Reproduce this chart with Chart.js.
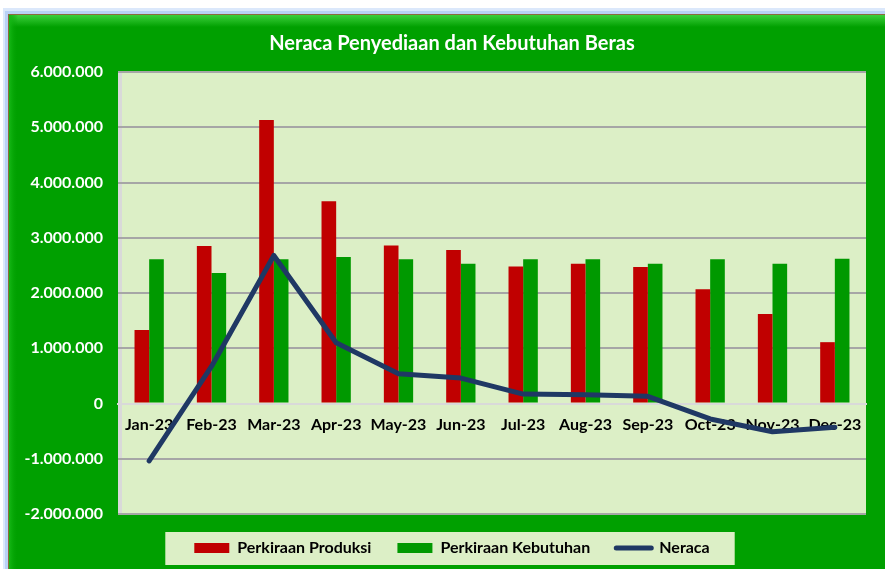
<!DOCTYPE html>
<html>
<head>
<meta charset="utf-8">
<script src="https://cdn.jsdelivr.net/npm/chart.js@4.4.0/dist/chart.umd.min.js"></script>
<style>
  html, body { margin: 0; padding: 0; background: #ffffff; }
  #wrap { position: relative; width: 885px; height: 569px; }
  canvas { display: block; }
</style>
</head>
<body>
<div id="wrap"><canvas id="c" width="885" height="569"></canvas></div>
<script>
const categories = ['Jan-23','Feb-23','Mar-23','Apr-23','May-23','Jun-23','Jul-23','Aug-23','Sep-23','Oct-23','Nov-23','Dec-23'];
const produksi   = [1330000, 2850000, 5130000, 3660000, 2860000, 2780000, 2480000, 2530000, 2470000, 2070000, 1620000, 1110000];
const kebutuhan  = [2610000, 2360000, 2610000, 2650000, 2610000, 2530000, 2610000, 2610000, 2530000, 2610000, 2530000, 2620000];
const neraca     = [-1040000, 670000, 2680000, 1100000, 540000, 460000, 170000, 160000, 130000, -280000, -510000, -430000];
const seriesNames = ['Perkiraan Produksi', 'Perkiraan Kebutuhan', 'Neraca'];
const titleText = 'Neraca Penyediaan dan Kebutuhan Beras';

function fmt(v) {
  const neg = v < 0;
  const s = Math.abs(Math.round(v)).toString().replace(/\B(?=(\d{3})+(?!\d))/g, '.');
  return (neg ? '-' : '') + s;
}

const FONT = "Lato, 'Open Sans', sans-serif";

const shiftPlugin = {
  id: 'shiftBoxes',
  afterLayout(chart) {
    const dx = 19;
    [chart.titleBlock, chart.legend].forEach(b => {
      if (b) { b.left += dx; b.right += dx; }
    });
  }
};

const framePlugin = {
  id: 'frame',
  beforeDraw(chart) {
    const ctx = chart.ctx;
    const W = chart.width, H = chart.height;
    ctx.save();
    ctx.fillStyle = '#ffffff';
    ctx.fillRect(0, 0, W, H);
    ctx.fillStyle = '#dbe8fb';
    ctx.fillRect(3, 8, W, H);
    ctx.fillStyle = '#b9d2f5';
    ctx.fillRect(5, 11, W, H);
    ctx.fillStyle = '#8c6a3c';
    ctx.fillRect(8, 14, W, H);
    ctx.fillStyle = '#00a000';
    ctx.fillRect(9, 15, W, H);
    const g = ctx.createLinearGradient(0, 15, 0, 27);
    g.addColorStop(0, '#3ccf3c');
    g.addColorStop(1, '#00a000');
    ctx.fillStyle = g;
    ctx.fillRect(9, 15, W, 12);
    const gl = ctx.createLinearGradient(9, 0, 18, 0);
    gl.addColorStop(0, '#16b816');
    gl.addColorStop(1, 'rgba(0,160,0,0)');
    ctx.fillStyle = gl;
    ctx.fillRect(9, 15, 9, H);
    const a = chart.chartArea;
    ctx.fillStyle = '#dcefc6';
    ctx.fillRect(a.left, a.top, a.right - a.left, a.bottom - a.top);
    ctx.fillStyle = '#d9d9d9';
    ctx.fillRect(a.left, a.top, 4, a.bottom - a.top);
    const lg = chart.legend;
    if (lg && lg.legendHitBoxes && lg.legendHitBoxes.length) {
      const hb = lg.legendHitBoxes;
      let minX = Infinity, maxX = -Infinity, minY = Infinity, maxY = -Infinity;
      hb.forEach(b => { minX = Math.min(minX, b.left); maxX = Math.max(maxX, b.left + b.width); minY = Math.min(minY, b.top); maxY = Math.max(maxY, b.top + b.height); });
      const cy = (minY + maxY) / 2;
      ctx.fillStyle = '#dcefc6';
      ctx.fillRect(minX - 29, cy - 16, (maxX - minX) + 54, 33);
    }
    ctx.restore();
  }
};

const ctx = document.getElementById('c').getContext('2d');
new Chart(ctx, {
  data: {
    labels: categories,
    datasets: [
      {
        type: 'line', label: seriesNames[2], data: neraca,
        borderColor: '#1f3864', backgroundColor: '#1f3864', borderWidth: 5,
        pointRadius: 0, tension: 0, order: 0, borderCapStyle: 'round', borderJoinStyle: 'round'
      },
      {
        type: 'bar', label: seriesNames[0], data: produksi,
        backgroundColor: '#c00000', borderWidth: 0, order: 1,
        categoryPercentage: 0.47, barPercentage: 1.0
      },
      {
        type: 'bar', label: seriesNames[1], data: kebutuhan,
        backgroundColor: '#009900', borderWidth: 0, order: 1,
        categoryPercentage: 0.47, barPercentage: 1.0
      }
    ]
  },
  options: {
    responsive: false,
    animation: false,
    devicePixelRatio: 1,
    layout: { padding: { left: 0, right: 19, top: 0, bottom: 3 } },
    plugins: {
      title: {
        display: true, text: titleText, color: '#ffffff',
        font: { family: FONT, size: 20, weight: 'bold' },
        padding: { top: 32, bottom: 16 }
      },
      legend: {
        position: 'bottom',
        labels: {
          color: '#000000',
          font: { family: FONT, size: 16, weight: 'bold' },
          usePointStyle: true,
          pointStyleWidth: 35,
          boxHeight: 10,
          padding: 26,
          sort: (a, b) => a.datasetIndex === 0 ? 1 : (b.datasetIndex === 0 ? -1 : a.datasetIndex - b.datasetIndex),
          generateLabels(chart) {
            const items = Chart.defaults.plugins.legend.labels.generateLabels(chart);
            items.forEach(it => {
              if (it.datasetIndex === 0) { it.pointStyle = 'line'; it.lineWidth = 5; it.lineCap = 'round'; }
              else { it.pointStyle = 'rect'; it.lineWidth = 0; }
            });
            return items;
          }
        }
      },
      tooltip: { enabled: false }
    },
    scales: {
      x: {
        position: { y: 0 },
        grid: { display: false, drawTicks: false },
        border: { display: true, color: '#d9d9d9', width: 2 },
        ticks: {
          color: '#000000', padding: 12,
          font: { family: FONT, size: 16, weight: 'bold' },
          maxRotation: 0, autoSkip: false
        }
      },
      y: {
        min: -2000000, max: 6000000,
        afterFit(scale) { scale.width = 118; },
        grid: {
          color: (c) => c.tick && c.tick.value === 0 ? '#d9d9d9' : '#a6a6a6',
          lineWidth: 2, drawTicks: false
        },
        border: { display: false },
        ticks: {
          stepSize: 1000000, color: '#ffffff', padding: 15,
          font: { family: FONT, size: 16, weight: 'bold' },
          callback: (v) => fmt(v)
        }
      }
    }
  },
  plugins: [shiftPlugin, framePlugin]
});
</script>
</body>
</html>
